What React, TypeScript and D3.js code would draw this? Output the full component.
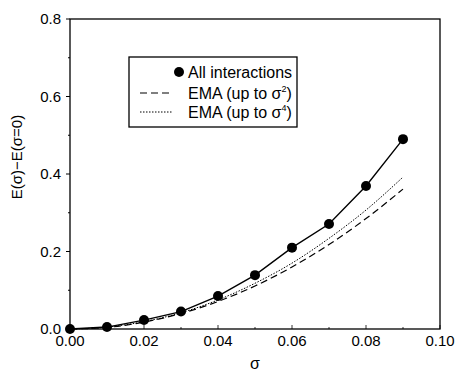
import React from 'react'
import * as d3 from 'd3'

// sigma values
const sigma = [0, 0.01, 0.02, 0.03, 0.04, 0.05, 0.06, 0.07, 0.08, 0.09]
// E(sigma) - E(sigma=0), all interactions
const allInteractions = [0, 0.005, 0.023, 0.045, 0.085, 0.139, 0.21, 0.271, 0.369, 0.49]
// EMA up to sigma^2
const emaSigma2 = [0, 0.004, 0.018, 0.04, 0.071, 0.111, 0.16, 0.218, 0.285, 0.361]
// EMA up to sigma^4
const emaSigma4 = [0, 0.005, 0.019, 0.042, 0.075, 0.118, 0.17, 0.234, 0.307, 0.392]

const xTicks = [0, 0.02, 0.04, 0.06, 0.08, 0.1]
const yTicks = [0, 0.2, 0.4, 0.6, 0.8]

const W = 458
const H = 374
const margin = { left: 70, right: 18, top: 19, bottom: 45 }
const FONT = 'Liberation Sans, Arial, sans-serif'

export default function App() {
  const x = d3.scaleLinear().domain([0, 0.1]).range([margin.left, W - margin.right])
  const y = d3.scaleLinear().domain([0, 0.8]).range([H - margin.bottom, margin.top])

  const line = d3.line<number>()
    .x((_, i) => x(sigma[i]))
    .y(d => y(d))
  const smooth = d3.line<number>()
    .x((_, i) => x(sigma[i]))
    .y(d => y(d))
    .curve(d3.curveMonotoneX)

  const minorX = d3.range(0, 0.1001, 0.01)
  const minorY = d3.range(0, 0.8001, 0.1)
  const [x0, x1] = x.range()
  const [y0, y1] = y.range()

  return (
    <svg width={W} height={H} style={{ position: 'absolute', left: 0, top: 0, background: '#fff', fontFamily: FONT }}>
      {/* frame */}
      <rect x={x0} y={y1} width={x1 - x0} height={y0 - y1} fill="none" stroke="#000" strokeWidth={1.3} />

      {/* x ticks */}
      {minorX.map((t, i) => (
        <line key={'mx' + i} x1={x(t)} x2={x(t)} y1={y0} y2={y0 - (i % 2 === 0 ? 4 : 2)} stroke="#000" strokeWidth={0.8} />
      ))}
      {xTicks.map(t => (
        <text key={'xt' + t} x={x(t)} y={y0 + 17} textAnchor="middle" fontSize={15} fill="#000">{t.toFixed(2)}</text>
      ))}
      <text x={(x0 + x1) / 2} y={H - 5} textAnchor="middle" fontSize={16} fill="#000">σ</text>

      {/* y ticks */}
      {minorY.map((t, i) => (
        <line key={'my' + i} x1={x0 - (i % 2 === 0 ? 4 : 2)} x2={x0} y1={y(t)} y2={y(t)} stroke="#000" strokeWidth={1} />
      ))}
      {yTicks.map(t => (
        <text key={'yt' + t} x={x0 - 9} y={y(t) + 5} textAnchor="end" fontSize={15} fill="#000">{t.toFixed(1)}</text>
      ))}
      <text transform={`translate(22,${157}) rotate(-90)`} textAnchor="middle" fontSize={15} fill="#000">E(σ)−E(σ=0)</text>

      {/* series */}
      <path d={smooth(emaSigma2) ?? ''} fill="none" stroke="#000" strokeWidth={1.2} strokeDasharray="7,4" />
      <path d={smooth(emaSigma4) ?? ''} fill="none" stroke="#000" strokeWidth={1} strokeDasharray="1.5,1.5" />
      <path d={line(allInteractions) ?? ''} fill="none" stroke="#000" strokeWidth={1.4} />
      {allInteractions.map((v, i) => (
        <circle key={'pt' + i} cx={x(sigma[i])} cy={y(v)} r={5} fill="#000" />
      ))}

      {/* legend */}
      <g transform="translate(129,57)">
        <rect x={0} y={0} width={168} height={70} fill="#fff" stroke="#000" strokeWidth={1.3} />
        <circle cx={50} cy={15} r={5} fill="#000" />
        <text x={59} y={21} fontSize={16} fill="#000">All interactions</text>
        <line x1={11} x2={43} y1={36} y2={36} stroke="#000" strokeWidth={1.2} strokeDasharray="7,4" />
        <text x={59} y={42} fontSize={16} fill="#000">EMA (up to σ<tspan dy={-7} fontSize={9}>2</tspan><tspan dy={7}>)</tspan></text>
        <line x1={11} x2={43} y1={55} y2={55} stroke="#000" strokeWidth={1} strokeDasharray="1.5,1.5" />
        <text x={59} y={61} fontSize={16} fill="#000">EMA (up to σ<tspan dy={-7} fontSize={9}>4</tspan><tspan dy={7}>)</tspan></text>
      </g>
    </svg>
  )
}
